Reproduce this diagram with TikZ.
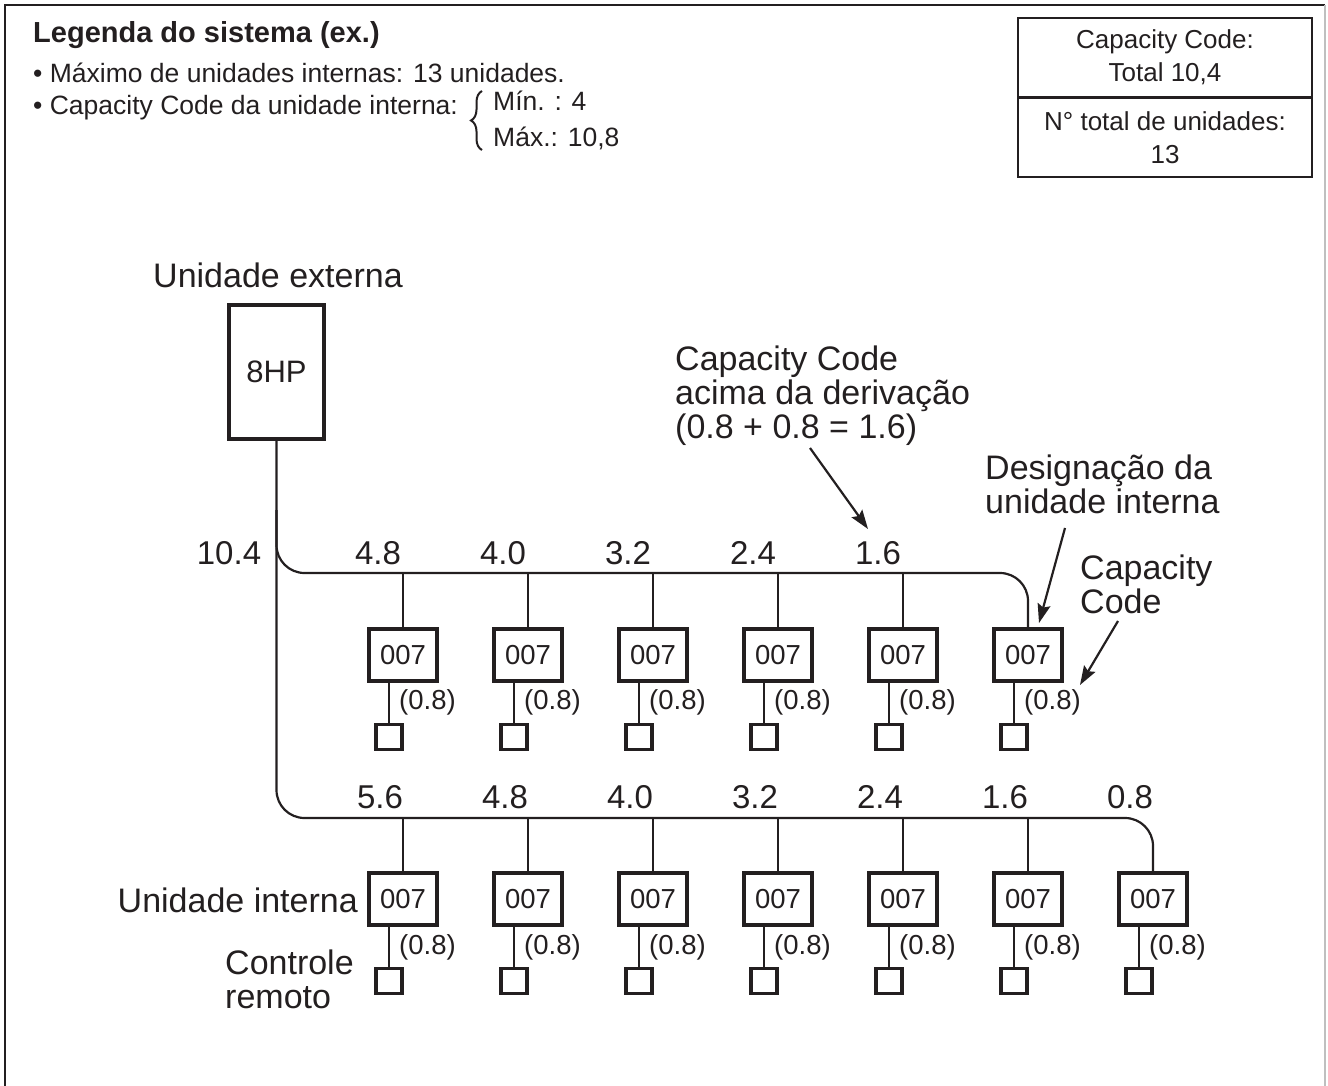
\documentclass[tikz,border=0pt]{standalone}
\usepackage{fontspec}
\setmainfont{Liberation Sans}
\usepackage{xcolor}
\usepackage{tikz}
\usetikzlibrary{arrows.meta,decorations.pathreplacing}

\definecolor{ink}{HTML}{231F20}

\tikzset{
  pipe/.style={line width=2.2pt, rounded corners=28pt},
  unitbox/.style={draw, line width=3.8pt, minimum width=68pt, minimum height=52pt, inner sep=0pt, font=\fontsize{27.5}{30}\selectfont},
  remote/.style={draw, line width=3.6pt, minimum width=26pt, minimum height=25pt, inner sep=0pt},
  code/.style={anchor=west, inner sep=0pt, font=\fontsize{27.5}{30}\selectfont},
  flow/.style={inner sep=0pt, font=\fontsize{33}{34}\selectfont},
  note/.style={inner sep=0pt, align=left, font=\fontsize{34}{34}\selectfont},
  pointer/.style={line width=2.2pt, -{Stealth[length=19pt,width=13pt,inset=3pt]}},
  legend/.style={anchor=west, inner sep=0pt, font=\fontsize{26.5}{30}\selectfont},
  infobox/.style={draw, line width=2.4pt, minimum width=294pt, minimum height=79pt, inner sep=0pt, align=center, font=\fontsize{26}{33}\selectfont}
}

\begin{document}
\begin{tikzpicture}[x=1pt, y=-1pt, color=ink]
		\useasboundingbox (0,0) rectangle (1328,1086);
		% frame
		\draw[line width=2.5pt] (5,1086) -- (5,5) -- (1325,5);
		\draw[line width=1.5pt, black!25] (1325,5) -- (1325,1086);
		
		% legend
		\node[legend, font=\fontsize{29}{30}\selectfont\bfseries] (title) at (33,35) {Legenda do sistema (ex.)};
		\node[legend] (maxu) at (33,73) {• Máximo de unidades internas: 13 unidades.};
		\node[legend] (capu) at (33,108) {• Capacity Code da unidade interna:};
		\draw[decorate, decoration={brace, amplitude=11pt}, line width=2pt] (482,150) -- (482,91);
		\node[legend] (cmin) at (493,101) {Mín. : 4};
		\node[legend] (cmax) at (493,138) {Máx.: 10,8};
		
		% totals
		\node[infobox] (total) at (1165,57.5) {Capacity Code:\\Total 10,4};
		\node[infobox] (count) at (1165,137.5) {N° total de unidades:\\13};
		
		% outdoor unit
		\node[note] (extlbl) at (278,275) {Unidade externa};
		\node[draw, line width=3.8pt, minimum width=95pt, minimum height=134pt, inner sep=0pt, font=\fontsize{31}{32}\selectfont] (ext) at (276.5,372) {8HP};
		
		% upper branch
		\foreach \i/\v in {1/4.8,2/4.0,3/3.2,4/2.4,5/1.6,6/}{
			\node[unitbox] (u\i) at ({278+125*\i},655) {007};
			\node[remote] (ur\i) at ({264+125*\i},737) {};
			\draw[line width=2.2pt] (u\i.south -| ur\i) -- (ur\i);
			\node[code] (cu\i) at ({274+125*\i},702) {(0.8)};
			\node[flow] (nu\i) at ({253+125*\i},553) {\v};
		}
		\foreach \i in {1,...,5}
			\draw[pipe] (u\i.north) -- (u\i.north |- 0,573);
		\draw[pipe] (ext.south |- 0,510) -- (ext.south |- 0,573) -- (u6.north |- 0,573) -- (u6.north);
		\node[flow] (ntop) at (229,553) {10.4};
		
		% lower branch
		\foreach \i/\v in {1/5.6,2/4.8,3/4.0,4/3.2,5/2.4,6/1.6,7/0.8}{
			\node[unitbox] (l\i) at ({278+125*\i},899) {007};
			\node[remote] (lr\i) at ({264+125*\i},981) {};
			\draw[line width=2.2pt] (l\i.south -| lr\i) -- (lr\i);
			\node[code] (cl\i) at ({274+125*\i},947) {(0.8)};
			\node[flow] (nl\i) at ({255+125*\i},797) {\v};
		}
		\foreach \i in {1,...,6}
			\draw[pipe] (l\i.north) -- (l\i.north |- 0,818);
		\draw[pipe] (ext.south) -- (ext.south |- 0,818) -- (l7.north |- 0,818) -- (l7.north);
		
		\node[note, anchor=east] (intlbl) at (358,900) {Unidade interna};
		\node[note, anchor=west] (remlbl) at (225,979) {Controle\\remoto};
		
		% callouts
		\node[note, anchor=west] (above) at (675,396) {Capacity Code\\acima da derivação\\(0.8 + 0.8 = 1.6)};
		\node[note, anchor=west] (desig) at (985,484) {Designação da\\unidade interna};
		\node[note, anchor=west] (capc) at (1080,584) {Capacity\\Code};
		\coordinate (t1) at (868,529);
		\coordinate (t2) at (1039,623);
		\coordinate (t3) at (1080,685);
		\draw[pointer] (810,448) -- (t1);
		\draw[pointer] (1065,528) -- (t2);
		\draw[pointer] (1118,621) -- (t3);
	\end{tikzpicture}
\end{document}
